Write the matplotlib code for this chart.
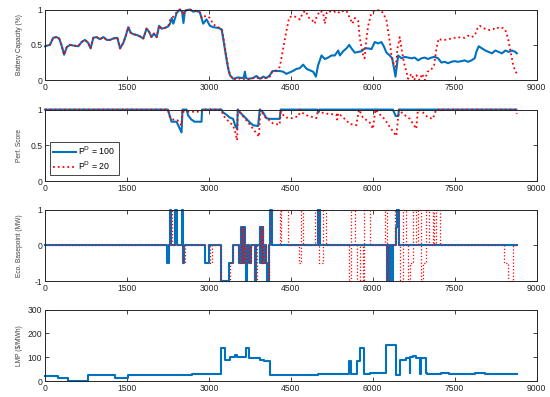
import numpy as np
import matplotlib
matplotlib.use("Agg")
import matplotlib.pyplot as plt

plt.rcParams['font.family'] = ['Liberation Sans', 'DejaVu Sans']

BLUE = '#0072BD'
RED = '#FF0000'

# --- Battery capacity (x, value) ---
cap_blue_x = [0, 90, 150, 210, 260, 305, 350, 400, 460, 520, 610, 670, 730, 790, 835, 885, 945, 1005, 1070,
              1130, 1190, 1250, 1325, 1375, 1435, 1480, 1525, 1570, 1620, 1680, 1740, 1800, 1860, 1910, 1950,
              1995, 2045, 2090, 2135, 2195, 2255, 2290, 2320, 2350, 2410, 2470, 2510, 2535, 2560, 2590, 2650,
              2715, 2775, 2836, 2897, 2958, 3020, 3080, 3170, 3233, 3263, 3312, 3355, 3386, 3446, 3538, 3600,
              3640, 3660, 3680, 3720, 3810, 3870, 3935, 3995, 4055, 4117, 4166, 4240, 4300, 4360, 4420, 4480,
              4540, 4605, 4665, 4727, 4790, 4850, 4910, 4960, 5000, 5063, 5124, 5185, 5246, 5307, 5368, 5400,
              5460, 5520, 5570, 5612, 5673, 5734, 5795, 5856, 5917, 5978, 6039, 6100, 6161, 6209, 6252, 6313,
              6356, 6393, 6417, 6441, 6466, 6527, 6588, 6649, 6710, 6770, 6832, 6893, 6954, 7015, 7075, 7136,
              7197, 7258, 7319, 7380, 7441, 7502, 7563, 7624, 7685, 7746, 7807, 7868, 7898, 7941, 8002, 8063,
              8124, 8185, 8246, 8307, 8368, 8429, 8490, 8551, 8612, 8640]
cap_blue = [0.48, 0.50, 0.60, 0.61, 0.59, 0.49, 0.36, 0.47, 0.50, 0.49, 0.48, 0.54, 0.57, 0.53, 0.45, 0.60, 0.61,
            0.58, 0.61, 0.57, 0.57, 0.59, 0.60, 0.45, 0.53, 0.63, 0.75, 0.67, 0.65, 0.64, 0.62, 0.59, 0.73, 0.68,
            0.61, 0.66, 0.61, 0.77, 0.73, 0.74, 0.76, 0.80, 0.88, 0.80, 0.95, 1.00, 0.97, 0.81, 0.97, 0.99, 1.00,
            0.97, 0.98, 0.96, 0.80, 0.86, 0.77, 0.75, 0.74, 0.72, 0.59, 0.35, 0.16, 0.07, 0.02, 0.04, 0.03,
            0.04, 0.12, 0.03, 0.02, 0.03, 0.06, 0.02, 0.05, 0.03, 0.07, 0.13, 0.13, 0.13, 0.12, 0.09, 0.11,
            0.13, 0.16, 0.17, 0.22, 0.16, 0.14, 0.12, 0.05, 0.21, 0.35, 0.30, 0.32, 0.35, 0.35, 0.42, 0.35,
            0.41, 0.45, 0.50, 0.45, 0.39, 0.40, 0.41, 0.45, 0.45, 0.44, 0.54, 0.52, 0.54, 0.47, 0.39, 0.35,
            0.31, 0.16, 0.05, 0.19, 0.35, 0.31, 0.33, 0.32, 0.31, 0.32, 0.28, 0.31, 0.32, 0.30, 0.32, 0.33,
            0.31, 0.25, 0.26, 0.24, 0.26, 0.27, 0.26, 0.27, 0.28, 0.26, 0.28, 0.31, 0.40, 0.48, 0.45, 0.42,
            0.40, 0.38, 0.42, 0.40, 0.38, 0.42, 0.40, 0.42, 0.40, 0.38]

cap_red_x = [0, 90, 150, 210, 260, 305, 350, 400, 460, 520, 610, 670, 730, 790, 835, 885, 945, 1005, 1070,
             1130, 1190, 1250, 1325, 1375, 1435, 1480, 1525, 1570, 1620, 1680, 1740, 1800, 1860, 1910, 1950,
             1995, 2045, 2090, 2135, 2195, 2255, 2290, 2320, 2350, 2410, 2470, 2510, 2540, 2560, 2590, 2650,
             2715, 2775, 2836, 2870, 2900, 2958, 3020, 3080, 3170, 3233, 3263, 3312, 3355, 3386, 3446, 3538,
             3600, 3660, 3720, 3810, 3870, 3935, 3995, 4055, 4117, 4166, 4240, 4300, 4361, 4422, 4471, 4544,
             4605, 4666, 4727, 4775, 4820, 4880, 4941, 4970, 5032, 5093, 5124, 5160, 5185, 5277, 5338, 5399,
             5460, 5521, 5582, 5631, 5673, 5734, 5765, 5826, 5850, 5887, 5917, 5966, 6026, 6100, 6161, 6209,
             6252, 6283, 6313, 6344, 6386, 6423, 6454, 6496, 6527, 6575, 6618, 6649, 6710, 6758, 6801, 6862,
             6905, 6954, 7002, 7063, 7124, 7167, 7209, 7258, 7319, 7380, 7441, 7502, 7563, 7624, 7685, 7746,
             7807, 7868, 7917, 7959, 8020, 8081, 8142, 8203, 8264, 8325, 8386, 8429, 8478, 8527, 8569, 8612,
             8640]
cap_red = [0.48, 0.50, 0.60, 0.61, 0.59, 0.49, 0.36, 0.47, 0.50, 0.49, 0.48, 0.54, 0.57, 0.53, 0.45, 0.60, 0.61,
           0.58, 0.61, 0.57, 0.57, 0.59, 0.60, 0.45, 0.53, 0.63, 0.75, 0.67, 0.65, 0.64, 0.62, 0.59, 0.73, 0.68,
           0.61, 0.66, 0.61, 0.77, 0.73, 0.74, 0.76, 0.85, 0.88, 0.90, 0.96, 1.00, 0.99, 0.92, 0.99, 0.99, 1.00,
           0.99, 0.98, 0.96, 0.88, 0.90, 0.91, 0.88, 0.79, 0.75, 0.73, 0.62, 0.38, 0.18, 0.08, 0.01, 0.03,
           0.01, 0.02, 0.01, 0.03, 0.02, 0.05, 0.01, 0.04, 0.05, 0.13, 0.14, 0.19, 0.45, 0.70, 0.89, 0.91,
           0.89, 0.86, 0.96, 0.98, 0.89, 0.86, 0.80, 0.89, 0.98, 0.96, 0.80, 0.96, 0.98, 0.96, 0.98, 0.95,
           0.98, 0.98, 0.88, 0.80, 0.88, 0.84, 0.59, 0.35, 0.31, 0.59, 0.77, 0.92, 0.98, 0.99, 0.98, 0.92,
           0.85, 0.69, 0.54, 0.35, 0.23, 0.19, 0.45, 0.61, 0.45, 0.24, 0.12, 0.02, 0.09, 0.00, 0.07, 0.00,
           0.09, 0.00, 0.12, 0.14, 0.21, 0.45, 0.59, 0.57, 0.57, 0.58, 0.59, 0.60, 0.61, 0.60, 0.60, 0.63,
           0.61, 0.63, 0.73, 0.77, 0.74, 0.72, 0.71, 0.72, 0.75, 0.73, 0.74, 0.71, 0.59, 0.40, 0.23, 0.12,
           0.10]

# --- Performance score (x, value) ---
perf_blue_x = [0, 2250, 2317, 2409, 2427, 2500, 2518, 2591, 2620, 2680, 2740, 2866, 2876, 3231, 3260, 3320, 3380,
               3444, 3481, 3518, 3530, 3570, 3689, 3750, 3811, 3902, 3932, 3993, 4054, 4103, 4140, 4298, 4316,
               4990, 5005, 5025, 6370, 6420, 6470, 6480, 8630]
perf_blue = [1, 1, 0.83, 0.83, 0.80, 0.68, 1, 1, 0.92, 0.86, 0.83, 0.83, 1, 1, 0.96, 0.93, 0.89,
             0.87, 0.78, 0.73, 1, 0.96, 0.87, 0.82, 0.78, 0.77, 1, 0.96, 0.88, 0.87, 0.87, 0.87, 1,
             1, 0.96, 1, 1, 0.91, 0.91, 1, 1]

perf_red_x = [0, 2250, 2290, 2350, 2427, 2500, 2518, 2540, 2866, 2876, 3231, 3260, 3320, 3380, 3444, 3481, 3518,
              3530, 3610, 3720, 3780, 3840, 3920, 3940, 3993, 4054, 4115, 4180, 4298, 4316, 4345, 4400, 4520,
              4652, 4665, 4700, 4790, 4969, 5000, 5060, 5180, 5335, 5350, 5370, 5460, 5580, 5701, 5750, 5820,
              5945, 6005, 6050, 6120, 6215, 6310, 6433, 6480, 6555, 6680, 6798, 6828, 6920, 7010, 7102, 7163,
              8610, 8640]
perf_red = [1, 1, 0.89, 0.86, 0.85, 0.78, 1, 0.97, 0.97, 1, 1, 0.92, 0.87, 0.82, 0.78, 0.69, 0.57,
            1, 0.92, 0.82, 0.76, 0.70, 0.62, 1, 0.94, 0.87, 0.85, 0.80, 0.79, 1, 0.94, 0.89, 0.88,
            0.91, 1, 0.96, 0.92, 0.88, 1, 0.96, 0.94, 0.93, 0.86, 0.95, 0.89, 0.80, 0.78, 1, 0.89,
            0.82, 0.73, 1, 0.94, 0.87, 0.76, 0.63, 1, 0.94, 0.87, 0.73, 1, 0.96, 0.89, 0.87, 1,
            1, 0.94]

# --- Economic basepoint, step changes (x, MW) ---
eco_blue_x = [0, 2240, 2270, 2295, 2315, 2380, 2420, 2505, 2520, 2545, 2930, 3000, 3231, 3375, 3440, 3555, 3585,
              3600, 3615, 3630, 3645, 3660, 3675, 3700, 3740, 3770, 3840, 3870, 3930, 3945, 3960, 3975, 3990,
              4000, 4020, 4040, 4070, 4100, 4120, 4150, 4990, 5000, 5010, 5020, 5030, 5040, 6265, 6280, 6295,
              6310, 6325, 6340, 6355, 6375, 6420, 6440, 6450, 6465, 6480, 8640]
eco_blue = [0, -0.5, 0, 1, 0, 1, 0, 1, -0.5, 0, -0.5, 0, -1, -0.5, 0, -0.5, 0.5,
            -0.5, 0.5, -0.5, 0.5, -0.5, -1, 0, -0.5, 0, -1, 0, 0.5, -0.5, 0.5, -0.5, 0.5,
            -0.5, 0, -0.5, -1, 0, 1, 0, 1, 0, 1, 0, 1, 0, -1, 0, -1,
            0, -1, 0, -1, 0, 0.5, 1, 0.5, 1, 0, 0]

eco_red_x = [0, 2295, 2320, 2525, 2560, 3020, 3065, 3231, 3385, 3445, 3560, 3590, 3605, 3620, 3640, 3660, 3700,
             3720, 3745, 3780, 3850, 3875, 3935, 3950, 3970, 3990, 4030, 4045, 4075, 4105, 4130, 4300, 4330,
             4450, 4650, 4680, 4720, 4935, 5000, 5020, 5090, 5140, 5565, 5610, 5670, 5710, 5760, 5820, 5850,
             5945, 6220, 6260, 6280, 6400, 6460, 6495, 6555, 6615, 6645, 6675, 6735, 6800, 6830, 6890, 6920,
             6970, 7030, 7100, 7130, 7160, 7225, 8410, 8475, 8570, 8640]
eco_red = [0, 1, 0, -0.5, 0, -0.5, 0, -1, -0.5, 0, -0.5, 0.5, -0.5, 0.5, -0.5, 0, -0.5,
           0, -0.5, 0, -1, 0, 0.5, -0.5, 0.5, -0.5, 0, -0.5, -1, 0, 1, 0, 1,
           0, -0.5, 1, 0, 1, 0, -0.5, 1, 0, -1, 1, 0, -1, 0, -1, 1,
           0, 1, -1, 0, 1, 0, -1, 1, 0, -1, -0.5, 1, 0, 1, -1, -0.5,
           1, 0, 1, 0, 1, 0, -0.5, -1, 0, 0]

# --- LMP, step changes (x, $/MWh) ---
lmp_x = [0, 244, 427, 793, 1280, 1400, 1524, 2200, 2700, 3231, 3292, 3384, 3475, 3518, 3676, 3737, 3932, 4011,
         4115, 4600, 5000, 5200, 5566, 5610, 5712, 5774, 5835, 5944, 6127, 6250, 6420, 6493, 6603, 6676, 6690,
         6737, 6798, 6859, 6890, 6968, 7000, 7250, 7400, 7580, 7750, 7880, 8050, 8240, 8400, 8640]
lmp = [22, 14, 2, 25, 11, 14, 25, 27, 29, 139, 87, 101, 111, 101, 140, 99, 87, 84,
       25, 27, 29, 28, 83, 28, 83, 139, 28, 33, 36, 150, 25, 87, 97, 33, 100,
       105, 97, 28, 97, 33, 28, 33, 28, 31, 28, 33, 28, 31, 28, 28]

xticks = [0, 1500, 3000, 4500, 6000, 7500, 9000]


def style(ax, ylim, yticks, ylabel):
    ax.set_xlim(0, 9000)
    ax.set_ylim(*ylim)
    ax.set_xticks(xticks)
    ax.set_yticks(yticks)
    ax.set_yticklabels([f"{t:g}" for t in yticks])
    ax.tick_params(direction='in', length=3, width=0.6, labelsize=6.2, pad=2,
                   top=True, right=True, colors='#262626')
    for s in ax.spines.values():
        s.set_linewidth(0.7)
        s.set_color('#262626')
    ax.set_ylabel(ylabel, fontsize=4.8, color='#404040')
    ax.yaxis.set_label_coords(-0.045, 0.5)


fig = plt.figure(figsize=(5.5, 3.97), dpi=100)
L, W, H = 0.0818, 0.8937, 0.180
ax1 = fig.add_axes([L, 0.798, W, 0.178])
ax2 = fig.add_axes([L, 0.544, W, H])
ax3 = fig.add_axes([L, 0.292, W, H])
ax4 = fig.add_axes([L, 0.040, W, H])

ax1.plot(cap_blue_x, cap_blue, color=BLUE, lw=1.5, clip_on=False)
ax1.plot(cap_red_x, cap_red, color=RED, lw=1.3, ls=':', clip_on=False)
style(ax1, (0, 1), [0, 0.5, 1], 'Battery Capacity (%)')

ax2.plot(perf_blue_x, perf_blue, color=BLUE, lw=1.5, clip_on=False, label='P$^{\\mathrm{D}}$ = 100')
ax2.plot(perf_red_x, perf_red, color=RED, lw=1.3, ls=':', clip_on=False, label='P$^{\\mathrm{D}}$ = 20')
style(ax2, (0, 1), [0, 0.5, 1], 'Perf. Score')
leg = ax2.legend(loc='lower left', bbox_to_anchor=(0.01, 0.08), borderaxespad=0, fontsize=6.3,
                 fancybox=False, framealpha=1, edgecolor='#262626', handlelength=2.6,
                 borderpad=0.35, labelspacing=0.3, handletextpad=0.3)
leg.get_frame().set_linewidth(0.6)

ax3.step(eco_blue_x, eco_blue, where='post', color=BLUE, lw=1.5, clip_on=False)
ax3.step(eco_red_x, eco_red, where='post', color=RED, lw=0.9, ls=':', clip_on=False)
style(ax3, (-1, 1), [-1, 0, 1], 'Eco. Basepoint (MW)')

ax4.step(lmp_x, lmp, where='post', color=BLUE, lw=1.5, clip_on=False)
style(ax4, (0, 300), [0, 100, 200, 300], 'LMP (\\$/MWh)')

fig.savefig('out.png', dpi=100)
